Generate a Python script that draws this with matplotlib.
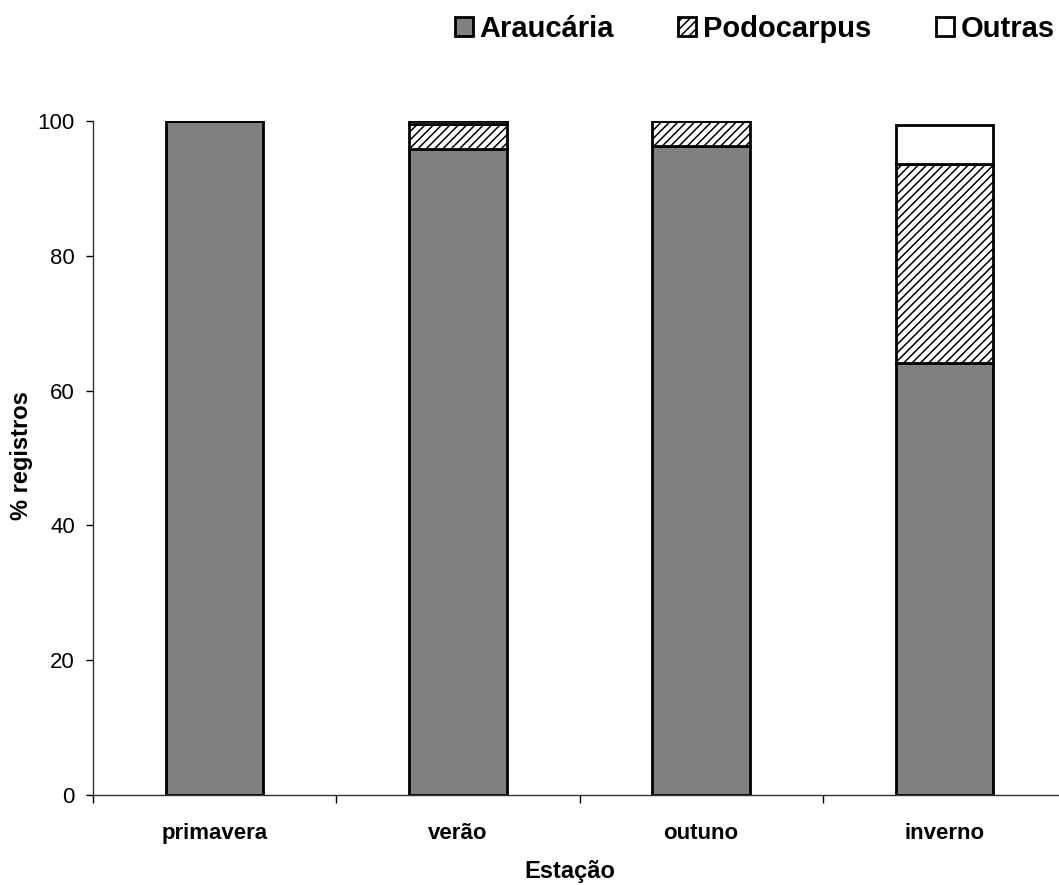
import matplotlib.pyplot as plt
import numpy as np

plt.rcParams['font.family'] = ['Liberation Sans', 'DejaVu Sans']
plt.rcParams['hatch.linewidth'] = 1.1

estacoes = ["primavera", "verão", "outuno", "inverno"]
araucaria = [100.0, 95.8, 96.3, 64.1]
podocarpus = [0.0, 3.7, 3.7, 29.5]
outras = [0.0, 0.5, 0.0, 5.8]

fig = plt.figure(figsize=(10.59, 8.85), dpi=100)
# right end of the x axis falls just outside the figure, like the original
ax = fig.add_axes([93 / 1059, 90 / 885, 973 / 1059, 674 / 885])

x = np.arange(len(estacoes))
w = 0.4
bottom2 = np.array(araucaria)
bottom3 = bottom2 + np.array(podocarpus)

ax.bar(x, araucaria, w, color="#808080", edgecolor="black", linewidth=2, label="Araucária")
ax.bar(x, podocarpus, w, bottom=bottom2, color="white", edgecolor="black",
       hatch="////", linewidth=2, label="Podocarpus")
ax.bar(x, outras, w, bottom=bottom3, color="white", edgecolor="black", linewidth=2, label="Outras")

ax.set_xlim(-0.5, 3.5)
ax.set_ylim(0, 100)
ax.set_yticks(range(0, 101, 20))
ax.tick_params(axis="y", labelsize=16, direction="out", length=5, width=1, pad=8)
ax.set_xticks(x)
ax.set_xticklabels(estacoes, fontsize=16, fontweight="bold")
ax.tick_params(axis="x", length=0, pad=20)
ax.set_xticks(np.arange(-0.5, 4, 1), minor=True)
ax.tick_params(axis="x", which="minor", direction="out", length=6, width=1)

for s in ["top", "right"]:
    ax.spines[s].set_visible(False)
for s in ["left", "bottom"]:
    ax.spines[s].set_linewidth(1)
    ax.spines[s].set_color("#333333")

ax.set_xlabel("Estação", fontsize=17, fontweight="bold")
ax.xaxis.set_label_coords(0.49, -0.096)
ax.set_ylabel("% registros", fontsize=17, fontweight="bold")
ax.yaxis.set_label_coords(-0.062, 0.504)

fig.legend(loc="upper left", bbox_to_anchor=(440 / 1059, 1.0), ncol=3, frameon=False,
           borderpad=0, prop={"size": 21, "weight": "bold"}, handlelength=0.62,
           handleheight=0.62, handletextpad=0.24, columnspacing=2.2)

fig.savefig("out.png", dpi=100)
